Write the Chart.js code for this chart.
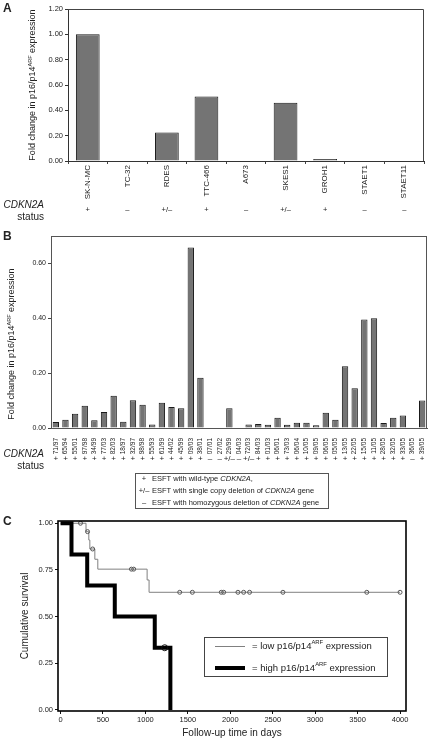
<!DOCTYPE html>
<html>
<head>
<meta charset="utf-8">
<script src="https://cdn.jsdelivr.net/npm/chart.js@4/dist/chart.umd.min.js"></script>
<style>
  html, body { margin: 0; padding: 0; background: #fff; }
  body { width: 433px; height: 740px; position: relative; overflow: hidden; }
  .panel { position: absolute; left: 0; width: 433px; }
  canvas { display: block; }
</style>
</head>
<body>
<div class="panel" style="top:0"><canvas id="chartA" width="433" height="226"></canvas></div>
<div class="panel" style="top:226px"><canvas id="chartB" width="433" height="286"></canvas></div>
<div class="panel" style="top:512px"><canvas id="chartC" width="433" height="228"></canvas></div>
<script>
const FONT = '"Liberation Sans", Arial, sans-serif';
const DASH = '\u2013';

// panel A: cell lines
const cellLines = ['SK-N-MC', 'TC-32', 'RDES', 'TTC-466', 'A673', 'SKES1', 'GROH1', 'STAET1', 'STAET11'];
const cellExpr = [1.00, 0, 0.225, 0.51, 0, 0.46, 0.015, 0, 0];
const cellStatus = ['+', DASH, '+/' + DASH, '+', DASH, '+/' + DASH, '+', DASH, DASH];
const ticksA = [0, 0.2, 0.4, 0.6, 0.8, 1.0, 1.2];

// panel B: tumours
const tumourIds = ['71/97','65/94','55/01','97/98','34/99','77/03','82/03','18/97','32/97','98/98',
  '55/93','61/99','44/02','45/99','09/03','38/01','07/01','27/02','29/99','04/03',
  '72/03','84/03','01/03','06/01','73/03','06/04','10/05','09/05','06/05','05/05',
  '13/05','22/05','15/05','11/05','28/05','32/05','33/05','36/05','39/05'];
const tumourExpr = [0.022, 0.030, 0.052, 0.081, 0.028, 0.058, 0.118, 0.023, 0.101, 0.085,
  0.013, 0.092, 0.077, 0.072, 0.658, 0.183, 0, 0, 0.072, 0,
  0.013, 0.015, 0.012, 0.037, 0.012, 0.019, 0.019, 0.010, 0.056, 0.030,
  0.225, 0.145, 0.396, 0.400, 0.018, 0.037, 0.046, 0, 0.100];
const tumourStatus = ['+','+','+','+','+','+','+','+','+','+','+','+','+','+','+','+',
  DASH, DASH, '+/' + DASH, DASH, '+/' + DASH,
  '+','+','+','+','+','+','+','+','+','+','+','+','+','+','+','+',
  DASH, '+'];
const ticksB = [0, 0.2, 0.4, 0.6];
const statusKey = ['+', '+/' + DASH, DASH];
const statusText = [
  [{t: 'ESFT with wild-type '}, {t: 'CDKN2A', italic: true}, {t: ','}],
  [{t: 'ESFT with single copy deletion of '}, {t: 'CDKN2A', italic: true}, {t: ' gene'}],
  [{t: 'ESFT with homozygous deletion of '}, {t: 'CDKN2A', italic: true}, {t: ' gene'}]
];

// panel C: Kaplan-Meier
const lowTimes = [0, 300, 333, 345, 404, 439, 1020, 1043, 4000];
const lowSurv = [1, 0.955, 0.91, 0.862, 0.807, 0.754, 0.696, 0.630, 0.630];
const lowCensorTimes = [235, 318, 378, 835, 862, 1404, 1553, 1894, 1922, 2090, 2157, 2227, 2620, 3608, 4000];
const lowCensorSurv = [1, 0.955, 0.862, 0.754, 0.754, 0.63, 0.63, 0.63, 0.63, 0.63, 0.63, 0.63, 0.63, 0.63, 0.63];
const highTimes = [0, 129, 314, 639, 1110, 1294];
const highSurv = [1, 0.833, 0.667, 0.5, 0.333, 0];
const highCensorTimes = [1227];
const highCensorSurv = [0.333];
const ticksCx = [0, 500, 1000, 1500, 2000, 2500, 3000, 3500, 4000];
const ticksCy = [0, 0.25, 0.5, 0.75, 1.0];

const exprTitle = [{t: 'Fold change in p16/p14'}, {t: 'ARF', sup: true}, {t: ' expression'}];
const lowLabel = [{t: '= low p16/p14'}, {t: 'ARF', sup: true}, {t: ' expression'}];
const highLabel = [{t: '= high p16/p14'}, {t: 'ARF', sup: true}, {t: ' expression'}];

Chart.defaults.font.family = FONT;
Chart.defaults.color = '#222';
Chart.defaults.animation = false;

function drawRich(ctx, parts, x, y, size, align, rotate) {
  ctx.save();
  ctx.translate(x, y);
  if (rotate) ctx.rotate(-Math.PI / 2);
  const fontFor = p => (p.italic ? 'italic ' : '') + (p.bold ? 'bold ' : '') + (p.sup ? size * 0.62 : size) + 'px ' + FONT;
  let w = 0;
  parts.forEach(p => { ctx.font = fontFor(p); w += ctx.measureText(p.t).width; });
  let cx = align === 'center' ? -w / 2 : align === 'right' ? -w : 0;
  ctx.textBaseline = 'middle';
  ctx.textAlign = 'left';
  ctx.fillStyle = '#222';
  parts.forEach(p => {
    ctx.font = fontFor(p);
    ctx.fillText(p.t, cx, p.sup ? -size * 0.33 : 0);
    cx += ctx.measureText(p.t).width;
  });
  ctx.restore();
}

function fixedTicks(list) {
  return s => { s.ticks = list.map(v => ({value: v})); };
}

function statusLabel(ctx, y) {
  drawRich(ctx, [{t: 'CDKN2A', italic: true}], 44, y, 10, 'right');
  drawRich(ctx, [{t: 'status'}], 44, y + 12, 10, 'right');
}

// ---- A ----
new Chart(document.getElementById('chartA'), {
  type: 'bar',
  data: {
    labels: cellLines,
    datasets: [{ data: cellExpr, backgroundColor: '#747474', borderColor: '#1a1a1a', borderWidth: 1,
      categoryPercentage: 1, barPercentage: 0.6 }]
  },
  options: {
    responsive: false,
    layout: { padding: { top: 9, right: 9, left: 0, bottom: 0 } },
    plugins: { legend: { display: false }, tooltip: { enabled: false } },
    scales: {
      x: {
        grid: { drawOnChartArea: false, tickLength: 3, color: '#444' },
        border: { color: '#333' },
        ticks: { font: { size: 8 }, minRotation: 90, maxRotation: 90, autoSkip: false, padding: 1 },
        afterFit(s) { s.height = 65; }
      },
      y: {
        min: 0, max: 1.2,
        afterBuildTicks: fixedTicks(ticksA),
        ticks: { font: { size: 7.5 }, padding: 2, callback: v => v.toFixed(2) },
        grid: { drawOnChartArea: false, tickLength: 3, color: '#333' },
        border: { color: '#333' },
        afterFit(s) { s.width = 68; }
      }
    }
  },
  plugins: [{
    id: 'extrasA',
    afterDraw(chart) {
      const {ctx, chartArea: a} = chart;
      ctx.save();
      ctx.strokeStyle = '#444';
      ctx.lineWidth = 1;
      ctx.beginPath();
      ctx.moveTo(a.left, a.top + 0.5); ctx.lineTo(a.right - 0.5, a.top + 0.5); ctx.lineTo(a.right - 0.5, a.bottom);
      ctx.stroke();
      ctx.restore();
      drawRich(ctx, [{t: 'A', bold: true}], 3, 9, 12, 'left');
      drawRich(ctx, exprTitle, 33, (a.top + a.bottom) / 2, 9, 'center', true);
      const xs = chart.scales.x;
      cellStatus.forEach((s, i) => drawRich(ctx, [{t: s}], xs.getPixelForValue(i), 210, 7.5, 'center'));
      statusLabel(ctx, 205);
    }
  }]
});

// ---- B ----
new Chart(document.getElementById('chartB'), {
  type: 'bar',
  data: {
    labels: tumourIds,
    datasets: [{ data: tumourExpr, backgroundColor: '#747474', borderColor: '#1a1a1a', borderWidth: 1,
      categoryPercentage: 1, barPercentage: 0.66 }]
  },
  options: {
    responsive: false,
    layout: { padding: { top: 10, right: 6, left: 0, bottom: 0 } },
    plugins: { legend: { display: false }, tooltip: { enabled: false } },
    scales: {
      x: {
        grid: { display: false },
        border: { color: '#555' },
        ticks: { font: { size: 6.5 }, minRotation: 90, maxRotation: 90, autoSkip: false, padding: 2 },
        afterFit(s) { s.height = 84; }
      },
      y: {
        min: 0, max: 0.70,
        afterBuildTicks: fixedTicks(ticksB),
        ticks: { font: { size: 7 }, padding: 2, callback: v => v.toFixed(2) },
        grid: { drawOnChartArea: false, tickLength: 3, color: '#444' },
        border: { color: '#555' },
        afterFit(s) { s.width = 51; }
      }
    }
  },
  plugins: [{
    id: 'extrasB',
    afterDraw(chart) {
      const {ctx, chartArea: a} = chart;
      ctx.save();
      ctx.strokeStyle = '#555';
      ctx.lineWidth = 1;
      ctx.strokeRect(a.left + 0.5, a.top + 0.5, a.right - a.left - 1, a.bottom - a.top);
      ctx.restore();
      drawRich(ctx, [{t: 'B', bold: true}], 3, 11, 12, 'left');
      drawRich(ctx, exprTitle, 12, (a.top + a.bottom) / 2 + 12, 9, 'center', true);
      const xs = chart.scales.x;
      tumourStatus.forEach((s, i) => drawRich(ctx, [{t: s}], xs.getPixelForValue(i), 233, 8, 'center'));
      statusLabel(ctx, 228);
      // status key box
      ctx.save();
      ctx.strokeStyle = '#555';
      ctx.strokeRect(135.5, 247.5, 193, 35);
      ctx.restore();
      statusKey.forEach((s, i) => {
        drawRich(ctx, [{t: s}], 144, 253 + i * 12, 7.5, 'center');
        drawRich(ctx, statusText[i], 152, 253 + i * 12, 7.5, 'left');
      });
    }
  }]
});

// ---- C ----
const xy = (ts, ss) => ts.map((t, i) => ({x: t, y: ss[i]}));
new Chart(document.getElementById('chartC'), {
  type: 'line',
  data: {
    datasets: [
      { data: xy(highCensorTimes, highCensorSurv), showLine: false, pointStyle: 'circle', pointRadius: 3,
        pointBorderWidth: 1, pointBorderColor: '#111', pointBackgroundColor: 'rgba(0,0,0,0)' },
      { data: xy(highTimes, highSurv), stepped: 'before', borderColor: '#000', borderWidth: 4,
        pointRadius: 0, borderCapStyle: 'butt', borderJoinStyle: 'miter' },
      { data: xy(lowCensorTimes, lowCensorSurv), showLine: false, pointStyle: 'circle', pointRadius: 2,
        pointBorderWidth: 1, pointBorderColor: '#555', pointBackgroundColor: 'rgba(0,0,0,0)' },
      { data: xy(lowTimes, lowSurv), stepped: 'before', borderColor: '#808080', borderWidth: 1,
        pointRadius: 0 }
    ]
  },
  options: {
    responsive: false,
    layout: { padding: { top: 9, right: 27, left: 0, bottom: 0 } },
    plugins: { legend: { display: false }, tooltip: { enabled: false } },
    scales: {
      x: {
        type: 'linear', min: -30, max: 4070,
        afterBuildTicks: fixedTicks(ticksCx),
        ticks: { font: { size: 7.5 }, padding: 1, callback: v => String(v) },
        grid: { drawOnChartArea: false, tickLength: 3, color: '#111' },
        border: { display: false },
        afterFit(s) { s.height = 29; }
      },
      y: {
        min: -0.006, max: 1.012,
        afterBuildTicks: fixedTicks(ticksCy),
        ticks: { font: { size: 7.5 }, padding: 2, callback: v => v.toFixed(2) },
        grid: { drawOnChartArea: false, tickLength: 3, color: '#111' },
        border: { display: false },
        afterFit(s) { s.width = 58; }
      }
    }
  },
  plugins: [{
    id: 'extrasC',
    afterDraw(chart) {
      const {ctx, chartArea: a} = chart;
      ctx.save();
      ctx.strokeStyle = '#000';
      ctx.lineWidth = 1.6;
      ctx.strokeRect(a.left, a.top, a.right - a.left, a.bottom - a.top);
      ctx.restore();
      drawRich(ctx, [{t: 'C', bold: true}], 3, 10, 12, 'left');
      drawRich(ctx, [{t: 'Cumulative survival'}], 25, (a.top + a.bottom) / 2, 10, 'center', true);
      drawRich(ctx, [{t: 'Follow-up time in days'}], (a.left + a.right) / 2, 221, 10, 'center');
      // legend
      ctx.save();
      ctx.strokeStyle = '#444';
      ctx.lineWidth = 1;
      ctx.strokeRect(204.5, 125.5, 183, 39);
      ctx.beginPath();
      ctx.strokeStyle = '#808080';
      ctx.moveTo(215, 134.5); ctx.lineTo(245, 134.5);
      ctx.stroke();
      ctx.beginPath();
      ctx.strokeStyle = '#000';
      ctx.lineWidth = 4;
      ctx.moveTo(215, 156); ctx.lineTo(245, 156);
      ctx.stroke();
      ctx.restore();
      drawRich(ctx, lowLabel, 252, 134, 9.5, 'left');
      drawRich(ctx, highLabel, 252, 156, 9.5, 'left');
    }
  }]
});
</script>
</body>
</html>
